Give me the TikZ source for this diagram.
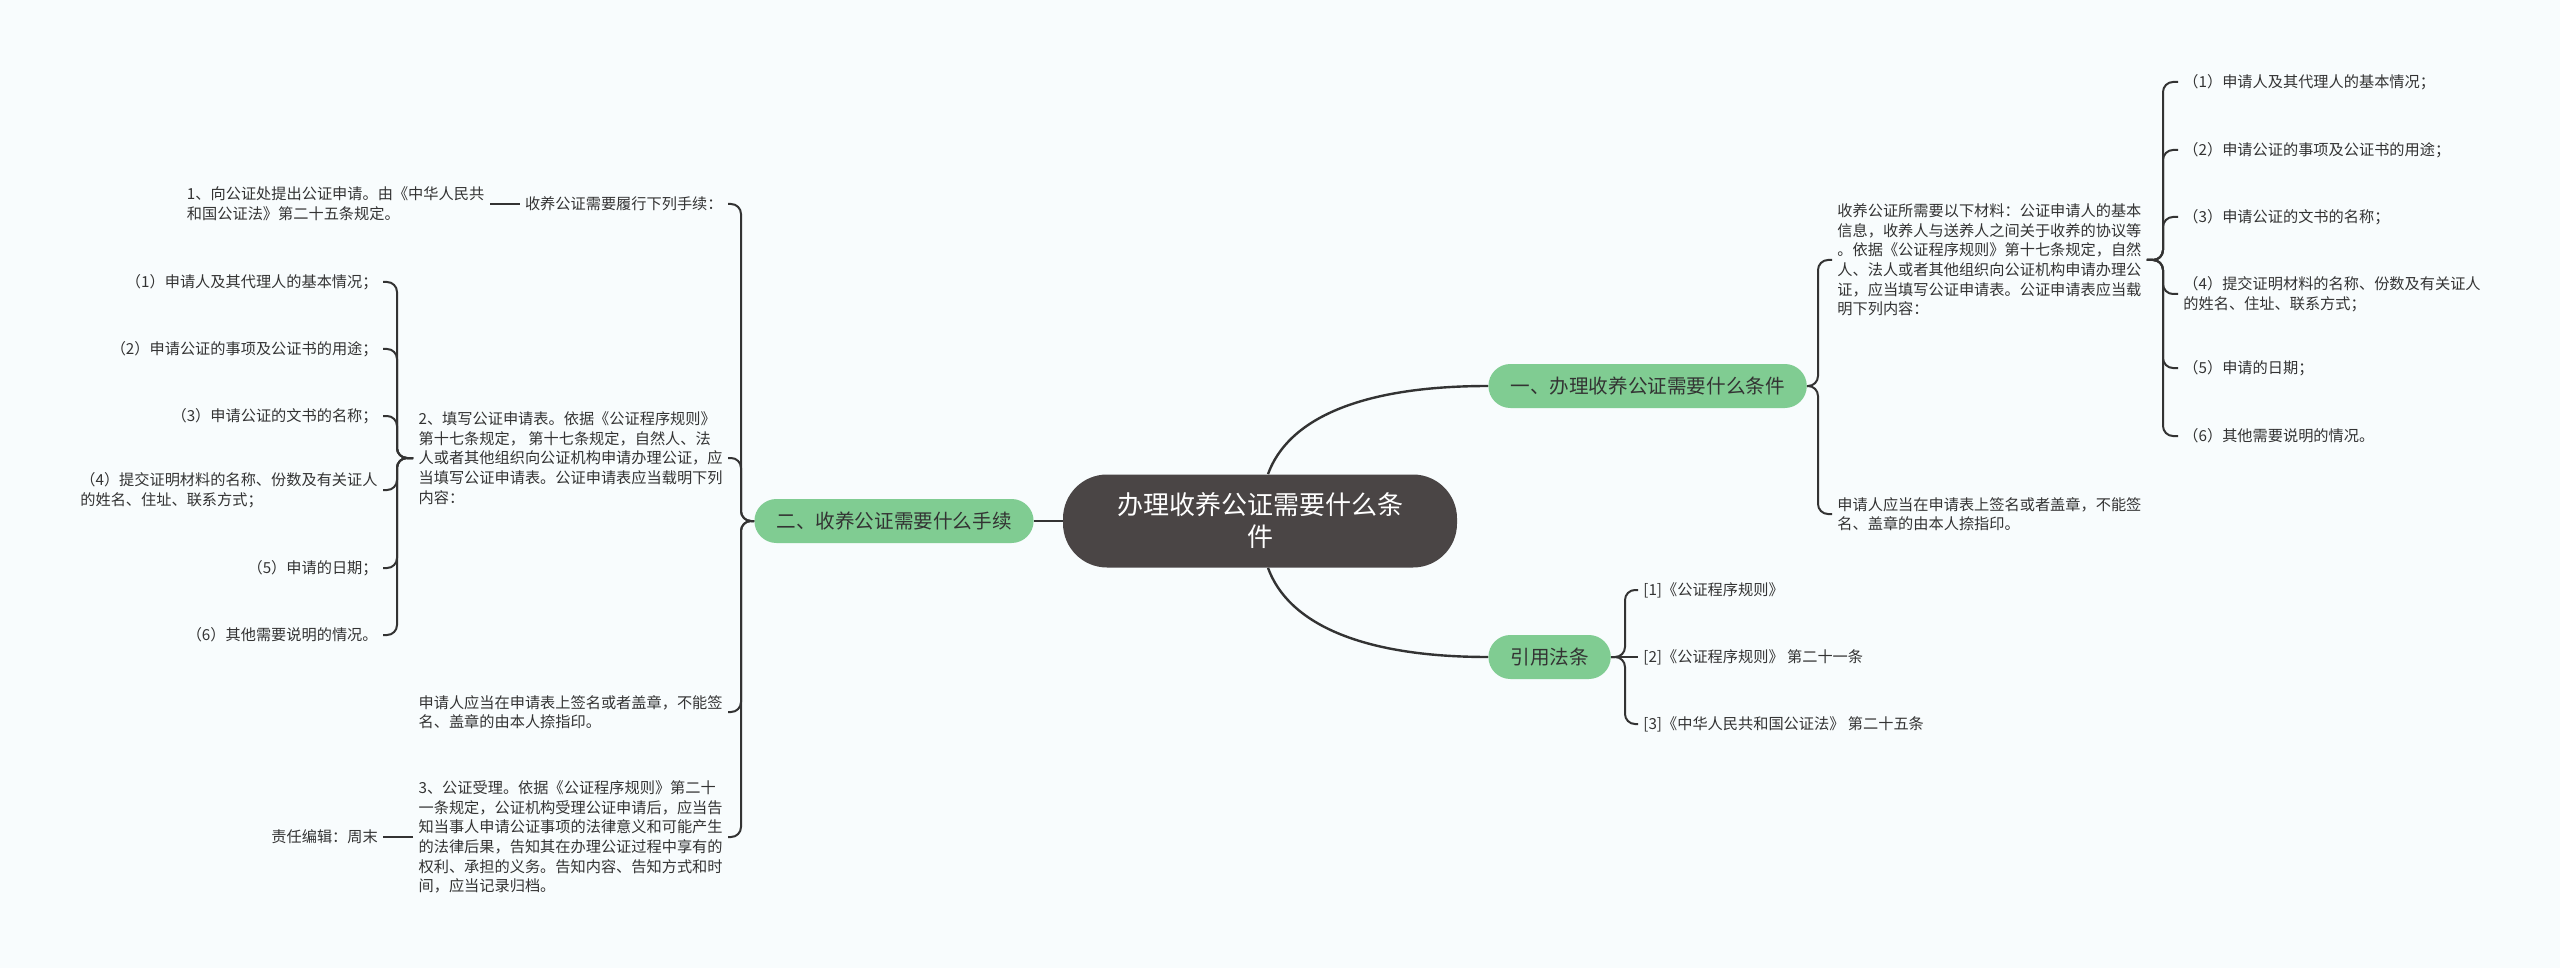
\documentclass[tikz,border=0pt]{standalone}
\usepackage{fontspec}
\usepackage{xcolor}
\usepackage{tikz}
\usetikzlibrary{positioning}
\newfontfamily\cjk{Noto Sans CJK SC}
\definecolor{mmback}{HTML}{F8FCFD}
\definecolor{mmroot}{HTML}{4A4545}
\definecolor{mmgreen}{HTML}{80CC92}
\definecolor{mmline}{HTML}{333333}
\definecolor{mmtext}{HTML}{333333}
\tikzset{
  root/.style={rounded corners=22pt,fill=mmroot,text=white,align=center,font=\cjk\fontsize{13}{16}\selectfont,inner xsep=27pt,minimum height=46.5pt},
  topic/.style={rounded corners=11pt,fill=mmgreen,text=mmtext,font=\cjk\fontsize{9.8}{12}\selectfont,inner xsep=11pt,minimum height=22pt},
  leaf/.style={align=left,text=mmtext,font=\cjk\fontsize{7.6}{9.8}\selectfont,inner sep=2.5pt},
  link/.style={draw=mmline,line width=1pt,rounded corners=5pt},
  mainlink/.style={draw=mmline,line width=1.2pt},
}

\begin{document}
\begin{tikzpicture}[x=0.5pt,y=-0.5pt]
  \fill[mmback] (0,0) rectangle (2560,968);
  \useasboundingbox (0,0) rectangle (2560,968);
  \node[root] (hub) at (1260,521) {办理收养公证需要什么条\\件};
  \node[topic,anchor=west] (b1) at (1488,386) {一、办理收养公证需要什么条件};
  \node[topic,anchor=east] (b2) at (1034,521) {二、收养公证需要什么手续};
  \node[topic,anchor=west] (b3) at (1488,657) {引用法条};
  \coordinate (j1) at (1818,386);
  \coordinate (j11) at (2163,260);
  \coordinate (j2) at (741,521);
  \coordinate (j21) at (397,458);
  \coordinate (j3) at (1625,657);
  \node[leaf,anchor=west] (a1) at (1832,260) {收养公证所需要以下材料：公证申请人的基本\\信息，收养人与送养人之间关于收养的协议等\\。依据《公证程序规则》第十七条规定，自然\\人、法人或者其他组织向公证机构申请办理公\\证，应当填写公证申请表。公证申请表应当载\\明下列内容：};
  \node[leaf,anchor=west] (a2) at (1832,514) {申请人应当在申请表上签名或者盖章，不能签\\名、盖章的由本人捺指印。};
  \node[leaf,anchor=west] (r1) at (2178,82) {（1）申请人及其代理人的基本情况；};
  \node[leaf,anchor=west] (r2) at (2178,150) {（2）申请公证的事项及公证书的用途；};
  \node[leaf,anchor=west] (r3) at (2178,217) {（3）申请公证的文书的名称；};
  \node[leaf,anchor=west] (r4) at (2178,294) {（4）提交证明材料的名称、份数及有关证人\\的姓名、住址、联系方式；};
  \node[leaf,anchor=west] (r5) at (2178,368) {（5）申请的日期；};
  \node[leaf,anchor=west] (r6) at (2178,436) {（6）其他需要说明的情况。};
  \node[leaf,anchor=east] (c1) at (728,204) {收养公证需要履行下列手续：};
  \node[leaf,anchor=east] (c2) at (728,458) {2、填写公证申请表。依据《公证程序规则》\\第十七条规定， 第十七条规定，自然人、法\\人或者其他组织向公证机构申请办理公证，应\\当填写公证申请表。公证申请表应当载明下列\\内容：};
  \node[leaf,anchor=east] (c3) at (728,712) {申请人应当在申请表上签名或者盖章，不能签\\名、盖章的由本人捺指印。};
  \node[leaf,anchor=east] (c4) at (728,837) {3、公证受理。依据《公证程序规则》第二十\\一条规定，公证机构受理公证申请后，应当告\\知当事人申请公证事项的法律意义和可能产生\\的法律后果，告知其在办理公证过程中享有的\\权利、承担的义务。告知内容、告知方式和时\\间，应当记录归档。};
  \node[leaf,left=15pt of c1] (g1) {1、向公证处提出公证申请。由《中华人民共\\和国公证法》第二十五条规定。};
  \node[leaf,left=15pt of c4] (g4) {责任编辑：周末};
  \node[leaf,anchor=east] (l1) at (383,282) {（1）申请人及其代理人的基本情况；};
  \node[leaf,anchor=east] (l2) at (383,349) {（2）申请公证的事项及公证书的用途；};
  \node[leaf,anchor=east] (l3) at (383,416) {（3）申请公证的文书的名称；};
  \node[leaf,anchor=east] (l4) at (383,490) {（4）提交证明材料的名称、份数及有关证人\\的姓名、住址、联系方式；};
  \node[leaf,anchor=east] (l5) at (383,568) {（5）申请的日期；};
  \node[leaf,anchor=east] (l6) at (383,635) {（6）其他需要说明的情况。};
  \node[leaf,anchor=west] (f1) at (1638,590) {[1]《公证程序规则》};
  \node[leaf,anchor=west] (f2) at (1638,657) {[2]《公证程序规则》 第二十一条};
  \node[leaf,anchor=west] (f3) at (1638,724) {[3]《中华人民共和国公证法》 第二十五条};
  \draw[mainlink] ([xshift=4pt]hub.north) .. controls +(20,-55) and +(-128,0) .. (b1.west);
  \draw[mainlink] ([xshift=4pt]hub.south) .. controls +(20,55) and +(-128,0) .. (b3.west);
  \draw[mainlink] (hub) -- (b2);
  \draw[link] (b1.east) -- (j1) |- (a1.west);
  \draw[link] (b1.east) -- (j1) |- (a2.west);
  \draw[link] (a1.east) -- (j11) |- (r1.west);
  \draw[link] (a1.east) -- (j11) |- (r2.west);
  \draw[link] (a1.east) -- (j11) |- (r3.west);
  \draw[link] (a1.east) -- (j11) |- (r4.west);
  \draw[link] (a1.east) -- (j11) |- (r5.west);
  \draw[link] (a1.east) -- (j11) |- (r6.west);
  \draw[link] (b2.west) -- (j2) |- (c1.east);
  \draw[link] (b2.west) -- (j2) |- (c2.east);
  \draw[link] (b2.west) -- (j2) |- (c3.east);
  \draw[link] (b2.west) -- (j2) |- (c4.east);
  \draw[link] (c1) -- (g1);
  \draw[link] (c4) -- (g4);
  \draw[link] (c2.west) -- (j21) |- (l1.east);
  \draw[link] (c2.west) -- (j21) |- (l2.east);
  \draw[link] (c2.west) -- (j21) |- (l3.east);
  \draw[link] (c2.west) -- (j21) |- (l4.east);
  \draw[link] (c2.west) -- (j21) |- (l5.east);
  \draw[link] (c2.west) -- (j21) |- (l6.east);
  \draw[link] (b3.east) -- (j3) |- (f1.west);
  \draw[link] (b3) -- (f2);
  \draw[link] (b3.east) -- (j3) |- (f3.west);
\end{tikzpicture}
\end{document}
